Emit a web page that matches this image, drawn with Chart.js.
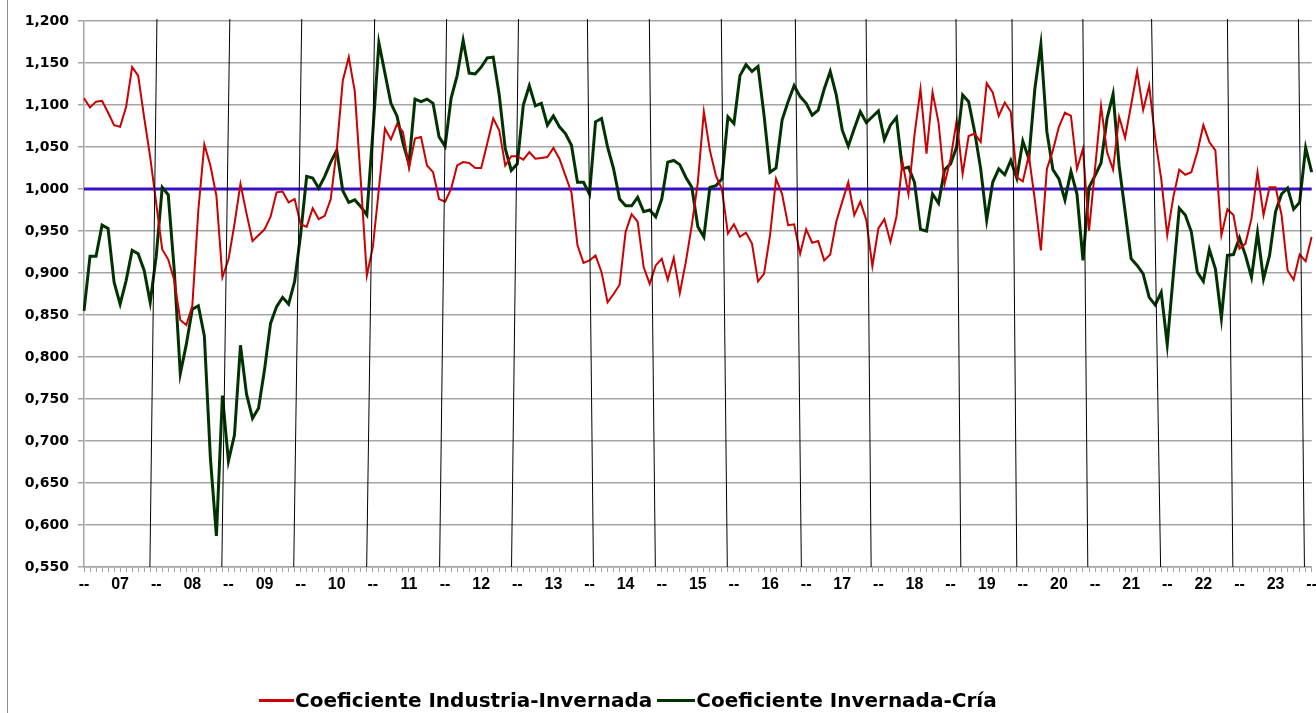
<!DOCTYPE html>
<html>
<head>
<meta charset="utf-8">
<script src="https://cdn.jsdelivr.net/npm/chart.js@4.4.1/dist/chart.umd.min.js"></script>
<style>
  html, body { margin: 0; padding: 0; background: #fff; overflow: hidden; }
  #frame { position: absolute; left: 7px; top: 0; width: 1px; height: 713px; background: #8c8c8c; }
  #wrap { position: absolute; left: 0; top: 0; width: 1320px; height: 713px; }
  #legend { position: absolute; top: 688px; left: 259px; display: flex; align-items: center;
            font: bold 20px 'DejaVu Sans', sans-serif; color: #000; white-space: nowrap; }
  #legend .key { display: inline-block; width: 35px; height: 3px; margin-right: 1px; }
</style>
</head>
<body>
<div id="frame"></div>
<div id="wrap"><canvas id="chart" width="1320" height="713"></canvas></div>
<div id="legend">
  <span class="key" style="background:#cc0000"></span><span>Coeficiente Industria-Invernada</span>
  <span class="key" style="background:#003300;width:38px;margin-left:5px"></span><span>Coeficiente Invernada-Cría</span>
</div>
<script>
// monthly series, Jan 2007 .. Jan 2024
const years = ['07', '08', '09', '10', '11', '12', '13', '14', '15', '16', '17', '18', '19', '20', '21', '22', '23'];

const industriaInvernada = [
  1.108, 1.097, 1.104, 1.105, 1.091, 1.076, 1.074, 1.098, 1.145, 1.135, 1.085, 1.038,
  0.983, 0.928, 0.916, 0.891, 0.844, 0.838, 0.861, 0.975, 1.053, 1.028, 0.992, 0.895,
  0.916, 0.958, 1.006, 0.971, 0.938, 0.945, 0.952, 0.967, 0.996, 0.997, 0.984, 0.988,
  0.958, 0.955, 0.977, 0.964, 0.968, 0.988, 1.047, 1.129, 1.157, 1.116, 1.009, 0.897,
  0.931, 1.000, 1.072, 1.059, 1.077, 1.068, 1.025, 1.060, 1.062, 1.028, 1.020, 0.988,
  0.985, 1.000, 1.028, 1.032, 1.031, 1.025, 1.025, 1.054, 1.084, 1.070, 1.028, 1.039,
  1.039, 1.035, 1.044, 1.036, 1.037, 1.038, 1.049, 1.036, 1.016, 0.996, 0.933, 0.912,
  0.915, 0.921, 0.901, 0.865, 0.875, 0.886, 0.949, 0.970, 0.961, 0.907, 0.887, 0.909,
  0.917, 0.892, 0.918, 0.876, 0.913, 0.957, 1.008, 1.092, 1.046, 1.016, 1.000, 0.947,
  0.958, 0.943, 0.948, 0.935, 0.890, 0.899, 0.945, 1.012, 0.994, 0.957, 0.958, 0.923,
  0.952, 0.936, 0.938, 0.915, 0.922, 0.961, 0.985, 1.008, 0.969, 0.985, 0.963, 0.908,
  0.953, 0.964, 0.937, 0.967, 1.032, 0.994, 1.064, 1.119, 1.042, 1.115, 1.079, 1.006,
  1.036, 1.081, 1.018, 1.063, 1.066, 1.056, 1.126, 1.115, 1.087, 1.103, 1.092, 1.014,
  1.009, 1.040, 0.987, 0.927, 1.024, 1.046, 1.074, 1.091, 1.087, 1.024, 1.048, 0.950,
  1.024, 1.099, 1.044, 1.023, 1.086, 1.061, 1.100, 1.140, 1.094, 1.123, 1.060, 1.012,
  0.945, 0.990, 1.023, 1.017, 1.020, 1.044, 1.076, 1.056, 1.046, 0.945, 0.976, 0.969,
  0.929, 0.935, 0.965, 1.020, 0.969, 1.002, 1.002, 0.969, 0.903, 0.892, 0.922, 0.914,
  0.943
];

const invernadaCria = [
  0.855, 0.920, 0.920, 0.957, 0.953, 0.889, 0.863, 0.891, 0.927, 0.923, 0.903, 0.865,
  0.920, 1.002, 0.993, 0.903, 0.780, 0.815, 0.857, 0.861, 0.825, 0.680, 0.587, 0.754,
  0.676, 0.707, 0.814, 0.756, 0.727, 0.739, 0.785, 0.840, 0.860, 0.871, 0.863, 0.890,
  0.946, 1.015, 1.013, 1.001, 1.015, 1.032, 1.046, 0.998, 0.984, 0.987, 0.979, 0.969,
  1.068, 1.174, 1.138, 1.102, 1.087, 1.055, 1.030, 1.107, 1.104, 1.107, 1.102, 1.062,
  1.051, 1.108, 1.135, 1.177, 1.138, 1.137, 1.145, 1.156, 1.157, 1.112, 1.048, 1.022,
  1.030, 1.100, 1.123, 1.099, 1.102, 1.076, 1.087, 1.074, 1.066, 1.052, 1.008, 1.008,
  0.994, 1.080, 1.084, 1.050, 1.024, 0.988, 0.980, 0.980, 0.990, 0.973, 0.975, 0.967,
  0.988, 1.032, 1.034, 1.029, 1.014, 1.002, 0.955, 0.943, 1.002, 1.004, 1.012, 1.086,
  1.078, 1.135, 1.148, 1.140, 1.146, 1.088, 1.020, 1.025, 1.082, 1.104, 1.123, 1.110,
  1.102, 1.088, 1.094, 1.119, 1.140, 1.112, 1.070, 1.051, 1.072, 1.092, 1.079, 1.086,
  1.093, 1.059, 1.076, 1.085, 1.024, 1.026, 1.008, 0.952, 0.950, 0.994, 0.983, 1.023,
  1.030, 1.050, 1.112, 1.104, 1.068, 1.024, 0.963, 1.008, 1.024, 1.017, 1.034, 1.013,
  1.057, 1.036, 1.119, 1.172, 1.068, 1.023, 1.012, 0.987, 1.021, 0.994, 0.915, 1.002,
  1.016, 1.031, 1.084, 1.113, 1.028, 0.973, 0.917, 0.909, 0.899, 0.871, 0.862, 0.877,
  0.815, 0.897, 0.977, 0.969, 0.949, 0.901, 0.890, 0.928, 0.905, 0.846, 0.921, 0.922,
  0.942, 0.921, 0.895, 0.948, 0.893, 0.921, 0.973, 0.994, 1.001, 0.976, 0.984, 1.049,
  1.020
];

const refLevel = 1.0;

// hand-drawn year separators, in month units (top end, bottom end)
const dividerTop = [12.12, 24.23, 36.18, 48.3, 60.25, 72.2, 83.65, 93.94, 105.9, 118.2, 129.96, 144.9, 154.2, 165.98, 177.4, 190.0, 201.8];
const dividerBottom = [10.95, 22.9, 34.85, 46.97, 59.09, 71.04, 84.65, 94.94, 106.9, 119.2, 130.8, 145.7, 155.0, 166.8, 178.9, 190.9, 202.8];

const months = industriaInvernada.map((_, i) => `${2007 + Math.floor(i / 12)}-${String(i % 12 + 1).padStart(2, '0')}`);

function tickText(i) {
  const m = i % 12;
  if (m === 0) return '--';
  if (m === 6) return years[Math.floor(i / 12)];
  return '';
}

const decorations = {
  id: 'decorations',
  beforeDatasetsDraw(chart) {
    const { ctx, chartArea: a, scales: { y } } = chart;
    const py = y.getPixelForValue(refLevel);
    ctx.save();
    ctx.strokeStyle = '#3a0fc8';
    ctx.lineWidth = 3;
    ctx.beginPath();
    ctx.moveTo(a.left, py);
    ctx.lineTo(a.right, py);
    ctx.stroke();
    ctx.restore();
  },
  afterDatasetsDraw(chart) {
    const { ctx, chartArea: a, scales: { x } } = chart;
    ctx.save();
    ctx.strokeStyle = '#000';
    ctx.lineWidth = 1;
    dividerTop.forEach((t, k) => {
      ctx.beginPath();
      ctx.moveTo(x.getPixelForValue(t), a.top - 2);
      ctx.lineTo(x.getPixelForValue(dividerBottom[k]), a.bottom);
      ctx.stroke();
    });
    ctx.restore();
  }
};

const gridGrey = '#a6a6a6';

new Chart(document.getElementById('chart').getContext('2d'), {
  type: 'line',
  data: {
    labels: months,
    datasets: [
      {
        label: 'Coeficiente Industria-Invernada',
        data: industriaInvernada,
        borderColor: '#cc0000',
        borderWidth: 2,
        pointRadius: 0,
        tension: 0,
        fill: false
      },
      {
        label: 'Coeficiente Invernada-Cría',
        data: invernadaCria,
        borderColor: '#003300',
        borderWidth: 3,
        pointRadius: 0,
        tension: 0,
        fill: false
      }
    ]
  },
  options: {
    responsive: false,
    animation: false,
    layout: { padding: { top: 21, left: 0, right: 0, bottom: 0 } },
    plugins: { legend: { display: false }, tooltip: { enabled: false } },
    scales: {
      x: {
        offset: false,
        ticks: {
          autoSkip: false,
          maxRotation: 0,
          minRotation: 0,
          padding: 3,
          color: '#000',
          font: { family: "'Liberation Sans Narrow', 'Liberation Sans', sans-serif", weight: 'bold', size: 16 },
          callback: (v, i) => tickText(i)
        },
        grid: { drawOnChartArea: false, color: gridGrey, tickLength: 5, lineWidth: 1 },
        border: { color: gridGrey, width: 1.5 },
        afterFit: s => { s.height = 146; }
      },
      y: {
        min: 0.55,
        max: 1.2,
        ticks: {
          stepSize: 0.05,
          padding: 9,
          color: '#000',
          font: { family: "'DejaVu Sans', sans-serif", weight: 'bold', size: 14 },
          callback: v => v.toFixed(3).replace('.', ',')
        },
        grid: { color: gridGrey, lineWidth: 1.5, tickLength: 6 },
        border: { color: gridGrey, width: 1.5 },
        afterFit: s => { s.width = 84; }
      }
    }
  },
  plugins: [decorations]
});
</script>
</body>
</html>
